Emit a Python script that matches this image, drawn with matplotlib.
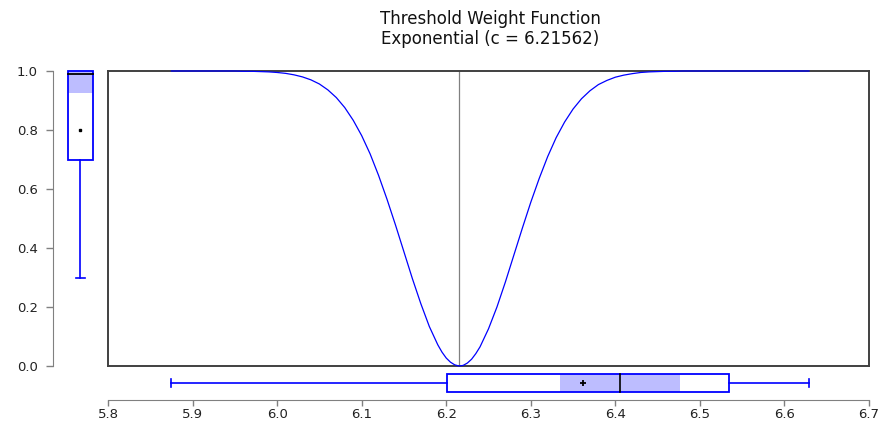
import matplotlib
matplotlib.use("Agg")
import matplotlib.pyplot as plt
from matplotlib.patches import Rectangle
from matplotlib.ticker import FormatStrFormatter

plt.rcParams['font.family'] = ['DejaVu Sans']

# threshold weight curve
thresh = [5.875,
          5.89, 5.90, 5.91, 5.92, 5.93, 5.94, 5.95, 5.96, 5.97, 5.98, 5.99,
          6.00, 6.01, 6.02, 6.03, 6.04, 6.05, 6.06, 6.07, 6.08, 6.09,
          6.10, 6.11, 6.12, 6.13, 6.14, 6.15, 6.16, 6.17, 6.18, 6.19,
          6.195, 6.20, 6.205, 6.21, 6.215, 6.22, 6.225, 6.23, 6.235,
          6.24, 6.25, 6.26, 6.27, 6.28, 6.29, 6.30, 6.31, 6.32, 6.33,
          6.34, 6.35, 6.36, 6.37, 6.38, 6.39, 6.40, 6.41, 6.42, 6.43,
          6.44, 6.45, 6.46, 6.47, 6.48,
          6.50, 6.55, 6.60, 6.629]
weight = [1.000,
          1.000, 1.000, 1.000, 1.000, 1.000, 1.000, 1.000, 0.999, 0.999, 0.998, 0.997,
          0.995, 0.992, 0.987, 0.980, 0.970, 0.956, 0.936, 0.910, 0.876, 0.833,
          0.781, 0.719, 0.646, 0.565, 0.478, 0.387, 0.296, 0.211, 0.134, 0.072,
          0.047, 0.027, 0.013, 0.004, 0.000, 0.002, 0.010, 0.023, 0.042,
          0.065, 0.126, 0.200, 0.285, 0.376, 0.467, 0.555, 0.636, 0.710, 0.774,
          0.827, 0.871, 0.906, 0.933, 0.954, 0.968, 0.979, 0.986, 0.991, 0.995,
          0.997, 0.998, 0.999, 0.999, 1.000,
          1.000, 1.000, 1.000, 1.000]
c_value = 6.21562

# boxplot summaries: [whisker_lo, q1, median, q3, whisker_hi], mean, median CI
box_x = [5.875, 6.201, 6.406, 6.534, 6.629]
mean_x = 6.362
ci_x = [6.334, 6.476]
box_w = [0.298, 0.700, 0.990, 1.000, 1.000]
mean_w = 0.800
ci_w = [0.924, 1.000]

blue = '#0000FF'
shade = '#BDBDFF'
grey = '#808080'

W, H = 882, 421
fig = plt.figure(figsize=(W / 100, H / 100), dpi=100)

def frac(l, t, r, b):
    return [l / W, 1 - b / H, (r - l) / W, (b - t) / H]

# main panel
ax = fig.add_axes(frac(108, 71, 869, 366))
ax.plot(thresh, weight, color=blue, lw=0.9, clip_on=False, zorder=5)
ax.axvline(c_value, color=grey, lw=0.9, zorder=1)
ax.set_xlim(5.8, 6.7)
ax.set_ylim(0, 1)
ax.set_xticks([]); ax.set_yticks([])
for s in ax.spines.values():
    s.set_color('#404040'); s.set_linewidth(1.4)

fig.text(490 / W, 1 - 29 / H,
         "Threshold Weight Function\nExponential (c = %.5f)" % c_value,
         ha='center', va='center', fontsize=12, linespacing=1.1, color='#111111')

# left boxplot + y axis
axl = fig.add_axes(frac(53, 71, 100, 366))
axl.set_xlim(0, 1); axl.set_ylim(0, 1)
for k in ['top', 'right', 'bottom']:
    axl.spines[k].set_visible(False)
axl.spines['left'].set_color(grey)
axl.set_xticks([])
axl.set_yticks([0, 0.2, 0.4, 0.6, 0.8, 1.0])
axl.yaxis.set_major_formatter(FormatStrFormatter('%.1f'))
axl.tick_params(axis='y', colors=grey, length=5, width=1, pad=6, labelsize=9.5, labelcolor='#222222')
bl, br, bc = 0.32, 0.85, 0.585
axl.add_patch(Rectangle((bl, ci_w[0]), br - bl, ci_w[1] - ci_w[0], color=shade, lw=0, zorder=1))
axl.add_patch(Rectangle((bl, box_w[1]), br - bl, box_w[3] - box_w[1], fill=False, ec=blue, lw=1.3, zorder=2, clip_on=False))
axl.plot([bl, br], [box_w[2]] * 2, color='black', lw=1.3, zorder=3)
axl.plot([bc, bc], [box_w[0], box_w[1]], color=blue, lw=1.2)
axl.plot([bc - 0.1, bc + 0.1], [box_w[0]] * 2, color=blue, lw=1.2)
axl.plot([bc], [mean_w], marker='s', ms=2, color='black')

# bottom boxplot + x axis
axb = fig.add_axes(frac(108, 368, 869, 400))
axb.set_xlim(5.8, 6.7); axb.set_ylim(0, 1)
for k in ['top', 'right', 'left']:
    axb.spines[k].set_visible(False)
axb.spines['bottom'].set_color(grey)
axb.set_yticks([])
axb.set_xticks([5.8, 5.9, 6.0, 6.1, 6.2, 6.3, 6.4, 6.5, 6.6, 6.7])
axb.xaxis.set_major_formatter(FormatStrFormatter('%.1f'))
axb.tick_params(axis='x', colors=grey, length=4, width=1, pad=1.5, labelsize=9.5, labelcolor='#222222')
yb, yt, ym = 0.24, 0.81, 0.525
axb.add_patch(Rectangle((ci_x[0], yb), ci_x[1] - ci_x[0], yt - yb, color=shade, lw=0, zorder=1))
axb.add_patch(Rectangle((box_x[1], yb), box_x[3] - box_x[1], yt - yb, fill=False, ec=blue, lw=1.3, zorder=2))
axb.plot([box_x[2]] * 2, [yb, yt], color='black', lw=1.2, zorder=3)
axb.plot([box_x[0], box_x[1]], [ym, ym], color=blue, lw=1.2)
axb.plot([box_x[3], box_x[4]], [ym, ym], color=blue, lw=1.2)
for v in (box_x[0], box_x[4]):
    axb.plot([v, v], [ym - 0.13, ym + 0.13], color=blue, lw=1.2)
axb.plot([mean_x], [ym], marker='+', ms=5, mew=1.3, color='black')

fig.savefig('out.png', dpi=100)
